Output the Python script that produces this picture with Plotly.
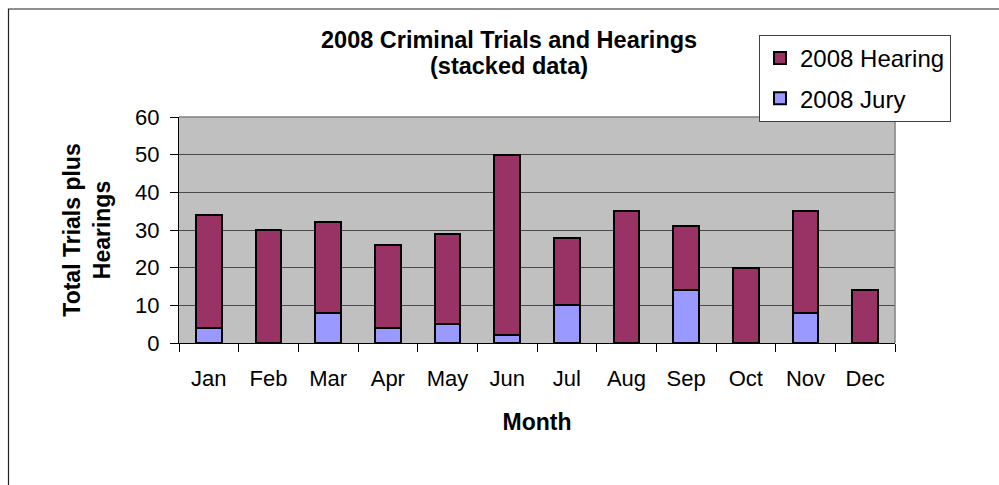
import plotly.graph_objects as go

months = ["Jan", "Feb", "Mar", "Apr", "May", "Jun", "Jul", "Aug", "Sep", "Oct", "Nov", "Dec"]
jury = [4, 0, 8, 4, 5, 2, 10, 0, 14, 0, 8, 0]
hearing = [30, 30, 24, 22, 24, 48, 18, 35, 17, 20, 27, 14]
y_ticks = [0, 10, 20, 30, 40, 50, 60]

FONT = "Arial, Liberation Sans, sans-serif"

# plot area pixels
L, R, T, B = 179, 895, 117, 343
W, H = 999, 485
pw, ph = R - L, B - T


def px_x(p):
    return (p - L) / pw


def px_y(p):
    return (B - p) / ph


fig = go.Figure()
fig.add_trace(go.Bar(
    x=months, y=jury, name="2008 Jury",
    marker=dict(color="#9999FF", line=dict(color="black", width=2)),
    legendgroup="j", legendrank=2,
))
fig.add_trace(go.Bar(
    x=months, y=hearing, name="2008 Hearing",
    marker=dict(color="#993366", line=dict(color="black", width=2)),
    legendgroup="h", legendrank=1,
))

fig.update_layout(
    width=W, height=H,
    margin=dict(l=L, r=W - R, t=T, b=H - B, pad=0),
    paper_bgcolor="white",
    plot_bgcolor="#C0C0C0",
    barmode="stack",
    bargap=0.565,
    font=dict(family=FONT, size=22, color="black"),
    legend=dict(
        x=px_x(759), y=px_y(35), xanchor="left", yanchor="top",
        bgcolor="white", bordercolor="#404040", borderwidth=1,
        font=dict(family=FONT, size=24, color="black"),
        traceorder="grouped", tracegroupgap=6,
    ),
    showlegend=True,
)

fig.update_xaxes(
    type="category",
    showline=True, linecolor="black", linewidth=1,
    ticks="outside", ticklen=8, tickcolor="black", tickwidth=1,
    tickson="boundaries",
    ticklabelstandoff=16,
    showgrid=False,
    tickfont=dict(family=FONT, size=22, color="black"),
    title=dict(text="<b>Month</b>", font=dict(family=FONT, size=23, color="black"), standoff=23),
)
fig.update_yaxes(
    range=[0, 60],
    tickvals=y_ticks,
    ticktext=[str(v) for v in y_ticks],
    showline=True, linecolor="black", linewidth=1,
    ticks="outside", ticklen=8, tickcolor="black", tickwidth=1,
    ticklabelstandoff=6,
    showgrid=True, gridcolor="#4a4a4a", gridwidth=1,
    zeroline=False,
    tickfont=dict(family=FONT, size=22, color="black"),
    title=dict(text="<b>Total Trials plus<br>Hearings</b>", font=dict(family=FONT, size=23, color="black"), standoff=18),
)

# Title as two lines of text
fig.add_annotation(
    text="<b>2008 Criminal Trials and Hearings</b>", xref="paper", yref="paper",
    x=px_x(509), y=px_y(40), xanchor="center", yanchor="middle", showarrow=False,
    font=dict(family=FONT, size=23.5, color="black"),
)
fig.add_annotation(
    text="<b>(stacked data)</b>", xref="paper", yref="paper",
    x=px_x(509), y=px_y(66), xanchor="center", yanchor="middle", showarrow=False,
    font=dict(family=FONT, size=23.5, color="black"),
)

# plot-area top/right gray border
fig.add_shape(type="line", xref="paper", yref="paper", x0=0, x1=1, y0=1, y1=1,
              line=dict(color="#808080", width=1.5))
fig.add_shape(type="line", xref="paper", yref="paper", x0=1, x1=1, y0=0, y1=1,
              line=dict(color="#808080", width=1.5))

# outer chart border (left and top visible; continues beyond the window)
fig.add_shape(type="rect", xref="paper", yref="paper",
              x0=px_x(8.5), x1=px_x(1010), y0=px_y(500), y1=px_y(9),
              line=dict(color="#222222", width=1.2), fillcolor="rgba(0,0,0,0)")

fig.write_html(
    "out.html",
    config={"displayModeBar": False},
    post_script="document.body.style.margin='0';document.body.style.overflow='hidden';",
)
